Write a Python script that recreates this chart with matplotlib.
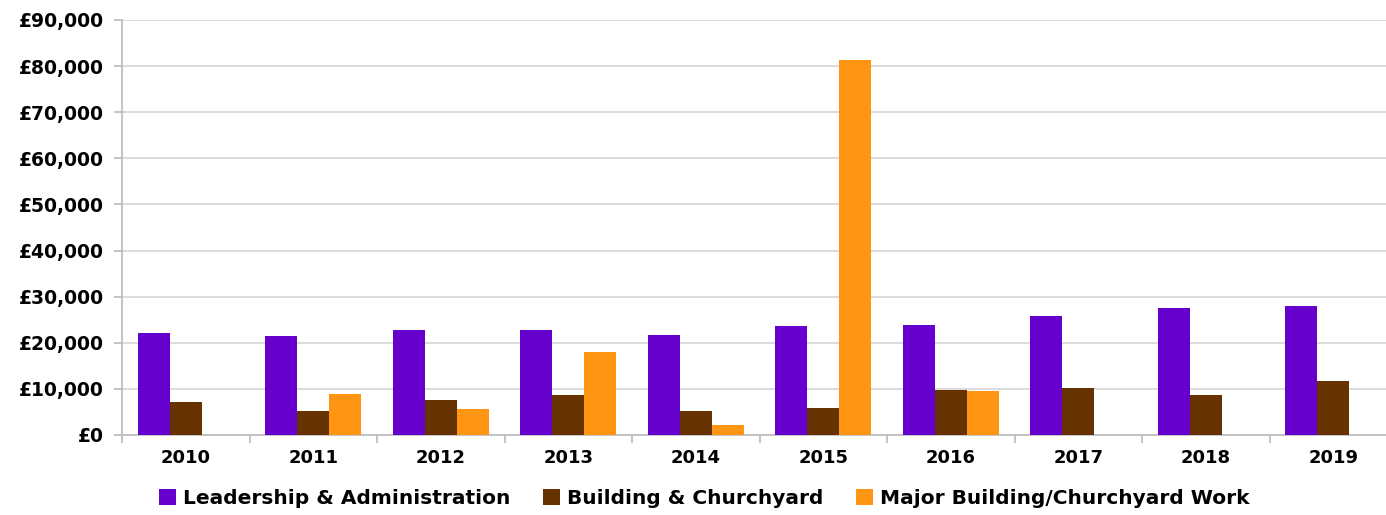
import numpy as np
import matplotlib.pyplot as plt
from matplotlib.ticker import FuncFormatter, MultipleLocator

years = ['2010', '2011', '2012', '2013', '2014', '2015', '2016', '2017', '2018', '2019']
leadership = [22100, 21500, 22800, 22800, 21700, 23600, 23900, 25800, 27500, 28000]
building = [7200, 5200, 7600, 8700, 5200, 5900, 9800, 10200, 8700, 11700]
major_work = [0, 8900, 5600, 18000, 2200, 81400, 9500, 0, 0, 0]

series_names = ['Leadership & Administration', 'Building & Churchyard',
                'Major Building/Churchyard Work']
colors = ['#6600cc', '#663300', '#ff9512']

plt.rcParams['font.family'] = ['DejaVu Sans']

fig = plt.figure(figsize=(13.86, 5.15), dpi=100)
ax = fig.add_axes([122 / 1386, 80 / 515, 1275 / 1386, 415 / 515])

x = np.arange(len(years))
width = 0.25
handles = []
for i, (vals, name, c) in enumerate(zip([leadership, building, major_work], series_names, colors)):
    h = ax.bar(x + (i - 1) * width, vals, width, color=c, label=name, zorder=3)
    handles.append(h)

ax.set_xlim(-0.5, len(years) - 0.5)
ax.set_ylim(0, 90000)
ax.yaxis.set_major_locator(MultipleLocator(10000))
ax.yaxis.set_major_formatter(FuncFormatter(lambda v, p: '£{:,.0f}'.format(v)))
ax.grid(axis='y', color='#d9d9d9', linewidth=1.3, zorder=0)

# category ticks sit on the boundaries, labels in the middle
ax.set_xticks(np.arange(len(years) + 1) - 0.5)
ax.set_xticklabels([])
ax.set_xticks(x, minor=True)
ax.set_xticklabels(years, minor=True)
ax.tick_params(axis='x', which='major', length=6, color='#bfbfbf', width=1.3)
ax.tick_params(axis='x', which='minor', length=0, pad=10, labelsize=13)
ax.tick_params(axis='y', length=6, color='#bfbfbf', width=1.3, pad=7, labelsize=13.5)
for lab in ax.get_xticklabels(minor=True) + ax.get_yticklabels():
    lab.set_fontweight('bold')

for side in ['top', 'right']:
    ax.spines[side].set_visible(False)
for side in ['left', 'bottom']:
    ax.spines[side].set_color('#bfbfbf')
    ax.spines[side].set_linewidth(1.3)

fig.legend(handles, series_names, loc='lower center', bbox_to_anchor=(0.508, -0.022),
           ncol=3, frameon=False, prop={'weight': 'bold', 'size': 14.5},
           handlelength=0.85, handleheight=0.85, handletextpad=0.35, columnspacing=1.6)

fig.savefig('out.png', dpi=100)
